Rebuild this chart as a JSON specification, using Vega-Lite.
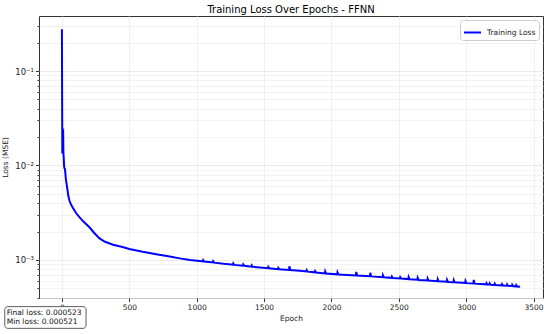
{
  "$schema": "https://vega.github.io/schema/vega-lite/v6.json",
  "autosize": {"type": "none"},
  "width": 504,
  "height": 282,
  "padding": {"left": 39, "top": 16, "right": 7, "bottom": 36},
  "background": "white",
  "title": {"text": "Training Loss Over Epochs - FFNN", "font": "DejaVu Sans", "fontSize": 10, "fontWeight": "normal", "color": "#000", "anchor": "middle", "frame": "group", "baseline": "alphabetic", "offset": 3, "dy": 10},
  "config": {
    "view": {"stroke": "#333", "strokeWidth": 1},
    "axis": {"domain": false, "labelFont": "DejaVu Sans", "titleFont": "DejaVu Sans", "labelFontSize": 7.5, "titleFontSize": 7.5, "titleFontWeight": "normal", "labelColor": "#222", "titleColor": "#222", "tickColor": "#333", "gridColor": "#e8e8e8", "gridWidth": 0.8, "labelOverlap": false}
  },
  "datasets": {
    "loss": [
      {"epoch": 0, "loss": 0.276}, {"epoch": 3, "loss": 0.0134}, {"epoch": 5, "loss": 0.025}, {"epoch": 7, "loss": 0.0136}, {"epoch": 9, "loss": 0.024}, {"epoch": 11, "loss": 0.0135}, {"epoch": 13, "loss": 0.0125}, {"epoch": 16, "loss": 0.0100}, {"epoch": 18, "loss": 0.0094}, {"epoch": 22, "loss": 0.0092}, {"epoch": 25, "loss": 0.0085}, {"epoch": 28, "loss": 0.0075}, {"epoch": 31, "loss": 0.0069}, {"epoch": 36, "loss": 0.0062}, {"epoch": 41, "loss": 0.0056}, {"epoch": 47, "loss": 0.0048}, {"epoch": 56, "loss": 0.00426}, {"epoch": 66, "loss": 0.0039}, {"epoch": 80, "loss": 0.00359}, {"epoch": 105, "loss": 0.00314}, {"epoch": 130, "loss": 0.00284}, {"epoch": 160, "loss": 0.00255}, {"epoch": 204, "loss": 0.00222}, {"epoch": 240, "loss": 0.00193}, {"epoch": 279, "loss": 0.00169}, {"epoch": 320, "loss": 0.00156}, {"epoch": 380, "loss": 0.00145}, {"epoch": 450, "loss": 0.00137}, {"epoch": 500, "loss": 0.00131}, {"epoch": 600, "loss": 0.00122}, {"epoch": 700, "loss": 0.00115}, {"epoch": 800, "loss": 0.00109}, {"epoch": 874, "loss": 0.00104}, {"epoch": 950, "loss": 0.00100}, {"epoch": 1022, "loss": 0.000976},
      {"epoch": 1047, "loss": 0.000967}, {"epoch": 1049, "loss": 0.000996}, {"epoch": 1056, "loss": 0.000963},
      {"epoch": 1121, "loss": 0.00094}, {"epoch": 1123, "loss": 0.000968}, {"epoch": 1130, "loss": 0.000937},
      {"epoch": 1200, "loss": 0.00091},
      {"epoch": 1270, "loss": 0.00089}, {"epoch": 1272, "loss": 0.000917}, {"epoch": 1279, "loss": 0.000887},
      {"epoch": 1344, "loss": 0.00087}, {"epoch": 1346, "loss": 0.000896}, {"epoch": 1353, "loss": 0.000867},
      {"epoch": 1407, "loss": 0.00085}, {"epoch": 1409, "loss": 0.000876}, {"epoch": 1416, "loss": 0.000847},
      {"epoch": 1530, "loss": 0.00082}, {"epoch": 1532, "loss": 0.000845}, {"epoch": 1539, "loss": 0.000817},
      {"epoch": 1604, "loss": 0.0008}, {"epoch": 1606, "loss": 0.000824}, {"epoch": 1613, "loss": 0.000797},
      {"epoch": 1686, "loss": 0.000785}, {"epoch": 1688, "loss": 0.000856}, {"epoch": 1695, "loss": 0.000782},
      {"epoch": 1766, "loss": 0.00077},
      {"epoch": 1815, "loss": 0.000756}, {"epoch": 1817, "loss": 0.000779}, {"epoch": 1824, "loss": 0.000753},
      {"epoch": 1877, "loss": 0.00074}, {"epoch": 1879, "loss": 0.000762}, {"epoch": 1886, "loss": 0.000738},
      {"epoch": 1952, "loss": 0.00072}, {"epoch": 1954, "loss": 0.000756}, {"epoch": 1961, "loss": 0.000718},
      {"epoch": 2043, "loss": 0.000705}, {"epoch": 2045, "loss": 0.00074}, {"epoch": 2052, "loss": 0.000703},
      {"epoch": 2182, "loss": 0.000686}, {"epoch": 2184, "loss": 0.000748}, {"epoch": 2191, "loss": 0.000684},
      {"epoch": 2286, "loss": 0.000672}, {"epoch": 2288, "loss": 0.000732}, {"epoch": 2295, "loss": 0.00067},
      {"epoch": 2380, "loss": 0.000658}, {"epoch": 2382, "loss": 0.000691}, {"epoch": 2389, "loss": 0.000656},
      {"epoch": 2447, "loss": 0.000647}, {"epoch": 2449, "loss": 0.000666}, {"epoch": 2456, "loss": 0.000645},
      {"epoch": 2509, "loss": 0.000638}, {"epoch": 2511, "loss": 0.000657}, {"epoch": 2518, "loss": 0.000636},
      {"epoch": 2571, "loss": 0.000628}, {"epoch": 2573, "loss": 0.000659}, {"epoch": 2580, "loss": 0.000626},
      {"epoch": 2638, "loss": 0.000617}, {"epoch": 2640, "loss": 0.000648}, {"epoch": 2647, "loss": 0.000615},
      {"epoch": 2712, "loss": 0.000607}, {"epoch": 2714, "loss": 0.000637}, {"epoch": 2721, "loss": 0.000605},
      {"epoch": 2787, "loss": 0.000597}, {"epoch": 2789, "loss": 0.000627}, {"epoch": 2796, "loss": 0.000595},
      {"epoch": 2856, "loss": 0.000588}, {"epoch": 2858, "loss": 0.000617}, {"epoch": 2865, "loss": 0.000586},
      {"epoch": 2906, "loss": 0.000582}, {"epoch": 2908, "loss": 0.000611}, {"epoch": 2915, "loss": 0.00058},
      {"epoch": 2993, "loss": 0.000571}, {"epoch": 2995, "loss": 0.0006}, {"epoch": 3002, "loss": 0.000569},
      {"epoch": 3054, "loss": 0.000564}, {"epoch": 3056, "loss": 0.000615}, {"epoch": 3063, "loss": 0.000562},
      {"epoch": 3149, "loss": 0.000552}, {"epoch": 3151, "loss": 0.000569}, {"epoch": 3158, "loss": 0.00055},
      {"epoch": 3173, "loss": 0.000549}, {"epoch": 3175, "loss": 0.000565}, {"epoch": 3182, "loss": 0.000547},
      {"epoch": 3210, "loss": 0.000545}, {"epoch": 3212, "loss": 0.000561}, {"epoch": 3219, "loss": 0.000543},
      {"epoch": 3265, "loss": 0.000539}, {"epoch": 3267, "loss": 0.000555}, {"epoch": 3274, "loss": 0.000537},
      {"epoch": 3302, "loss": 0.000535}, {"epoch": 3304, "loss": 0.000551}, {"epoch": 3311, "loss": 0.000533},
      {"epoch": 3340, "loss": 0.00053}, {"epoch": 3342, "loss": 0.000546}, {"epoch": 3349, "loss": 0.000528},
      {"epoch": 3370, "loss": 0.000526}, {"epoch": 3372, "loss": 0.000541}, {"epoch": 3379, "loss": 0.000524},
      {"epoch": 3392, "loss": 0.000521}, {"epoch": 3400, "loss": 0.000523}
    ],
    "note": [{"label": ["Final loss: 0.000523", "Min loss: 0.000521"]}]
  },
  "layer": [
    {
      "data": {"name": "loss"},
      "mark": {"type": "line", "strokeWidth": 2, "clip": true},
      "encoding": {
        "x": {"field": "epoch", "type": "quantitative", "title": "Epoch",
              "scale": {"domain": [-170, 3570], "nice": false, "zero": false},
              "axis": {"values": [0, 500, 1000, 1500, 2000, 2500, 3000, 3500], "format": "d", "tickSize": 3.5, "labelPadding": 2, "titlePadding": 3, "labelFlush": false, "gridColor": "#ececec"}},
        "y": {"field": "loss", "type": "quantitative", "title": "Loss (MSE)",
              "scale": {"type": "log", "domain": [0.000396, 0.382], "nice": false},
              "axis": {"values": [0.0004, 0.0005, 0.0006, 0.0007, 0.0008, 0.0009, 0.001, 0.002, 0.003, 0.004, 0.005, 0.006, 0.007, 0.008, 0.009, 0.01, 0.02, 0.03, 0.04, 0.05, 0.06, 0.07, 0.08, 0.09, 0.1, 0.2, 0.3],
                       "labelExpr": "datum.value == 0.1 ? '10⁻¹' : datum.value == 0.01 ? '10⁻²' : datum.value == 0.001 ? '10⁻³' : ''",
                       "labelFontSize": 8.5,
                       "tickSize": {"condition": {"test": "datum.value == 0.1 || datum.value == 0.01 || datum.value == 0.001", "value": 3.5}, "value": 2},
                       "gridColor": {"condition": {"test": "datum.value == 0.1 || datum.value == 0.01 || datum.value == 0.001", "value": "#e4e4e4"}, "value": "#efefef"},
                       "labelPadding": 2, "titlePadding": 5}},
        "color": {"datum": "Training Loss", "type": "nominal", "scale": {"range": ["#0000ff"]},
                  "legend": {"title": null, "orient": "top-right", "offset": 4, "symbolType": "stroke", "symbolSize": 289, "symbolStrokeWidth": 2, "labelFont": "DejaVu Sans", "labelFontSize": 7.5, "labelColor": "#222", "labelOffset": 5, "padding": 3, "strokeColor": "#cccccc", "fillColor": "white", "cornerRadius": 3}}
      }
    },
    {
      "data": {"name": "note"},
      "mark": {"type": "rect", "fill": "white", "stroke": "#333", "strokeWidth": 0.8, "cornerRadius": 3, "clip": false},
      "encoding": {
        "x": {"datum": -424, "type": "quantitative"},
        "x2": {"datum": 179},
        "y": {"datum": 0.000321, "type": "quantitative"},
        "y2": {"datum": 0.000189}
      }
    },
    {
      "data": {"name": "note"},
      "mark": {"type": "text", "align": "left", "baseline": "top", "font": "DejaVu Sans", "fontSize": 7.5, "lineHeight": 9, "color": "#111", "clip": false},
      "encoding": {
        "x": {"datum": -410, "type": "quantitative"},
        "y": {"datum": 0.000303, "type": "quantitative"},
        "text": {"field": "label"}
      }
    }
  ]
}
